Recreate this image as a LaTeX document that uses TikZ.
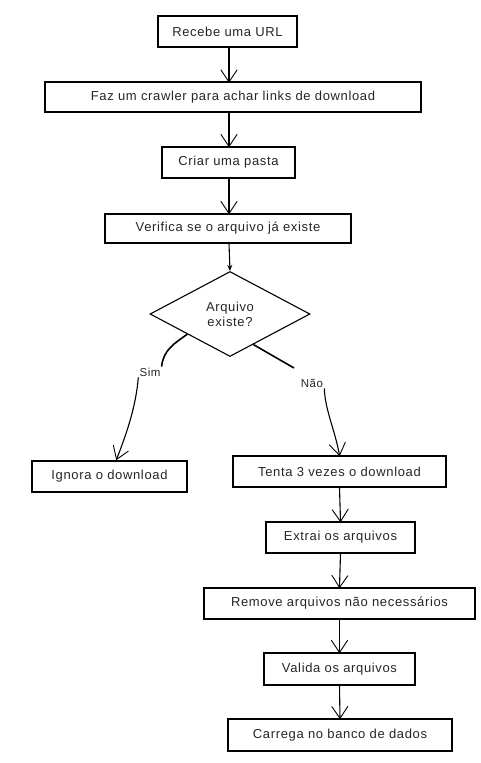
\documentclass[tikz,border=0pt]{standalone}
\usepackage{fontspec}
\setmainfont[LetterSpace=5]{Liberation Sans}
\usetikzlibrary{shapes.geometric,arrows.meta,calc}
\pgfdeclarearrow{
  name = OpenVee,
  parameters = {\the\pgfarrowlength,\the\pgfarrowwidth},
  setup code = {
    \pgfarrowssettipend{0pt}
    \pgfarrowssetlineend{-0.5\pgflinewidth}
    \pgfarrowshullpoint{0pt}{0pt}
    \pgfarrowshullpoint{-\pgfarrowlength}{.5\pgfarrowwidth}
    \pgfarrowshullpoint{-\pgfarrowlength}{-.5\pgfarrowwidth}
    \pgfarrowssavethe\pgfarrowlength
    \pgfarrowssavethe\pgfarrowwidth
  },
  drawing code = {
    \pgfsetdash{}{0pt}
    \pgfsetlinewidth{0.9pt}
    \pgfsetroundcap
    \pgfsetmiterjoin
    \pgfpathmoveto{\pgfqpoint{-\pgfarrowlength}{.5\pgfarrowwidth}}
    \pgfpathlineto{\pgfpointorigin}
    \pgfpathlineto{\pgfqpoint{-\pgfarrowlength}{-.5\pgfarrowwidth}}
    \pgfusepathqstroke
  },
  defaults = {length=12pt,width=16pt}
}
\begin{document}
\begin{tikzpicture}[x=1pt,y=-1pt,
  box/.style={draw=black,line width=1.1pt,rectangle,inner sep=0pt,font=\fontsize{13}{15}\selectfont,text=black!85},
  arr/.style={line width=1.1pt,-{OpenVee[length=12pt,width=16pt]}},
  lbl/.style={inner sep=1pt,font=\fontsize{11.5}{13}\selectfont,text=black!85},
  rough/.style={line width=1.6pt}]
\fill[white] (0,0) rectangle (480,763);
\useasboundingbox (0,0) rectangle (480,763);
\node[box,minimum width=139pt,minimum height=31pt] (b1) at (227.5,31.5) {Recebe uma URL};
\node[box,minimum width=376pt,minimum height=30pt] (b2) at (233,97) {Faz um crawler para achar links de download};
\node[box,minimum width=133pt,minimum height=31pt] (b3) at (228.5,162.5) {Criar uma pasta};
\node[box,minimum width=246pt,minimum height=29pt] (b4) at (228,228.5) {Verifica se o arquivo já existe};
\node[box,diamond,minimum width=160pt,minimum height=85pt,align=center] (d) at (230,314) {Arquivo\\existe?};
\node[box,minimum width=155pt,minimum height=31pt] (ig) at (109.5,476.5) {Ignora o download};
\node[box,minimum width=213pt,minimum height=31pt] (t) at (339.5,471.5) {Tenta 3 vezes o download};
\node[box,minimum width=149pt,minimum height=31pt] (e) at (340.5,537.5) {Extrai os arquivos};
\node[box,minimum width=271pt,minimum height=31pt] (r) at (339.5,603.5) {Remove arquivos não necessários};
\node[box,minimum width=151pt,minimum height=32pt] (v) at (339.5,669) {Valida os arquivos};
\node[box,minimum width=224pt,minimum height=32pt] (c) at (340,735) {Carrega no banco de dados};
\node[lbl] (sim) at (150,372) {Sim};
\node[lbl] (nao) at (312,383) {Não};
\coordinate (ds) at ($(d.west)!0.47!(d.south)$);
\coordinate (dn) at ($(d.south)!0.29!(d.east)$);
\coordinate (igin) at ($(ig.north)+(7,-1)$);
\draw[arr] (229,47) -- (229,82);
\draw[arr] (b2.south -| 229,0) -- (b3.north -| 229,0);
\draw[arr] (b3.south -| 229,0) -- (b4.north -| 229,0);
\draw[line width=1.1pt,-{Stealth[length=6pt,width=5pt]}] (b4.south -| 229,0) -- (d.north);
\draw[rough] (ds) .. controls (175,343) and (163,350) .. (sim.north east);
\draw[arr] (sim.south west) .. controls (136,405) and (128,430) .. (igin);
\draw[rough] (dn) -- (294,368);
\draw[arr] (nao.south east) .. controls (325,410) and (335,430) .. (t.north);
\draw[arr] (t.south) -- (e.north);
\draw[arr] (e.south) -- (r.north);
\draw[arr] (r.south) -- (v.north);
\draw[arr] (v.south) -- (c.north);
\end{tikzpicture}
\end{document}
